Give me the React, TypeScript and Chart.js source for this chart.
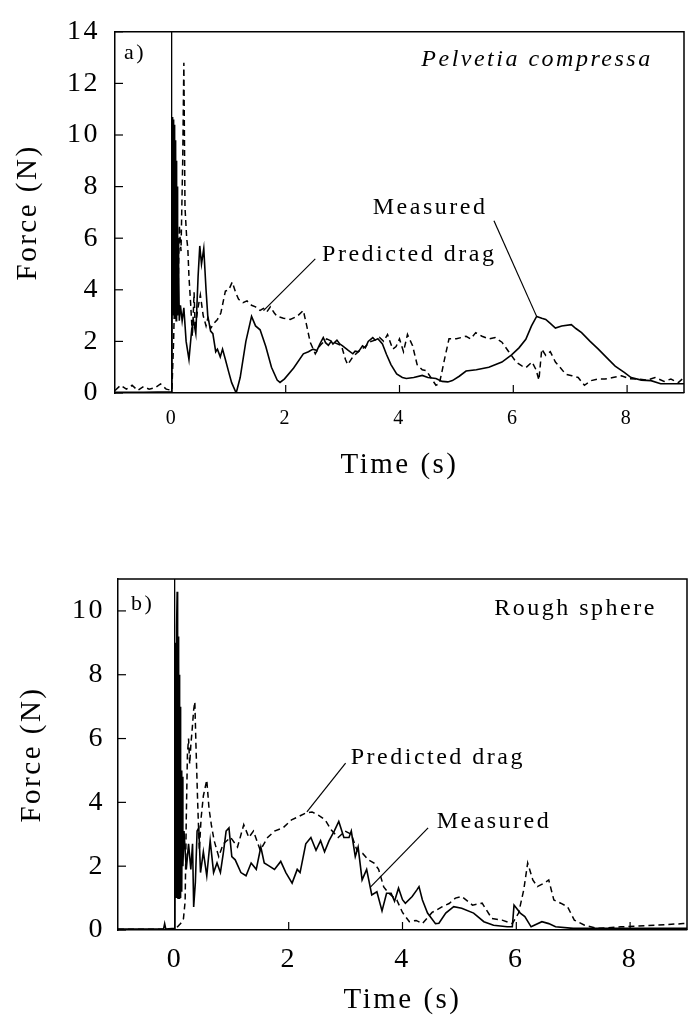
import React, { useEffect, useRef } from "react";
import { Chart, registerables } from "chart.js";
Chart.register(...registerables);

// ---------- DATA (time s, force N) ----------
const aMeasured: [number, number][] = [
  [-1, 0.03], [-0.5, 0.03], [0, 0.05], [0.005, 6.0], [0.01, 10.7], [0.015, 4.0], [0.02, 10.6], [0.025, 3.0],
  [0.03, 10.5], [0.035, 3.5], [0.04, 10.4], [0.045, 3.0], [0.05, 10.2], [0.055, 2.9], [0.06, 9.8], [0.065, 3.0],
  [0.07, 9.5], [0.075, 2.8], [0.08, 9.0], [0.085, 3.0], [0.09, 8.0], [0.095, 3.2], [0.1, 7.0], [0.105, 3.0],
  [0.11, 6.0], [0.115, 3.2], [0.12, 5.0], [0.13, 2.8],
  [0.15, 3.4], [0.18, 2.8], [0.21, 3.3], [0.25, 2.0], [0.3, 1.3], [0.35, 2.5], [0.38, 2.8], [0.42, 2.3],
  [0.46, 4.5], [0.49, 5.7], [0.52, 5.0], [0.56, 5.6], [0.6, 4.0], [0.63, 3.0], [0.68, 2.4], [0.72, 2.3],
  [0.77, 1.6], [0.8, 1.7], [0.85, 1.4], [0.89, 1.7], [0.94, 1.3], [1.0, 0.8], [1.05, 0.4], [1.13, 0.0],
  [1.2, 0.6], [1.3, 2.0], [1.4, 2.97], [1.47, 2.6], [1.55, 2.45], [1.65, 1.8], [1.75, 1.0], [1.85, 0.5],
  [1.9, 0.41], [1.98, 0.55], [2.14, 0.97], [2.31, 1.52], [2.4, 1.6], [2.48, 1.7], [2.55, 1.65], [2.6, 1.9],
  [2.66, 2.15], [2.7, 1.95], [2.75, 1.85], [2.8, 2.0], [2.83, 1.9], [2.9, 2.05], [2.95, 1.9], [3.0, 1.83],
  [3.1, 1.65], [3.18, 1.52], [3.22, 1.62], [3.28, 1.6], [3.35, 1.83], [3.4, 1.75], [3.45, 2.0], [3.53, 2.15],
  [3.57, 2.05], [3.62, 2.1], [3.7, 1.9], [3.77, 1.5], [3.85, 1.1], [3.95, 0.74], [4.05, 0.6],
  [4.12, 0.56], [4.25, 0.6], [4.4, 0.68], [4.5, 0.6], [4.64, 0.56], [4.75, 0.45], [4.85, 0.43], [4.93, 0.48],
  [5.05, 0.65], [5.17, 0.85], [5.35, 0.9], [5.57, 1.0], [5.8, 1.2], [5.97, 1.48], [6.1, 1.75], [6.22, 2.08],
  [6.32, 2.6], [6.41, 2.97], [6.5, 2.9], [6.57, 2.85], [6.65, 2.7], [6.74, 2.52], [6.85, 2.6], [7.02, 2.65],
  [7.1, 2.5], [7.2, 2.34], [7.35, 2.0], [7.49, 1.71], [7.65, 1.35], [7.79, 1.04], [7.95, 0.8], [8.07, 0.6],
  [8.25, 0.5], [8.42, 0.48], [8.59, 0.36], [8.8, 0.36], [9.0, 0.36],
];

const aPredicted: [number, number][] = [
  [-1, 0.1], [-0.9, 0.3], [-0.8, 0.15], [-0.7, 0.3], [-0.6, 0.1], [-0.5, 0.25], [-0.4, 0.15], [-0.3, 0.2],
  [-0.2, 0.35], [-0.1, 0.15], [0, 0.1], [0.03, 2.0], [0.06, 5.0], [0.09, 7.0], [0.11, 4.0], [0.13, 6.5],
  [0.16, 5.5], [0.19, 9.0], [0.21, 12.8], [0.23, 7.2], [0.26, 6.0], [0.28, 5.6], [0.3, 4.5], [0.33, 3.45],
  [0.36, 2.2], [0.39, 3.9], [0.41, 2.45], [0.45, 3.2], [0.5, 3.8], [0.55, 3.0], [0.6, 2.6], [0.63, 2.9],
  [0.68, 2.5], [0.74, 2.7], [0.8, 2.85], [0.86, 3.1], [0.94, 3.95], [1.0, 4.0], [1.06, 4.3], [1.12, 3.9],
  [1.17, 3.64], [1.25, 3.5], [1.32, 3.57], [1.4, 3.4], [1.47, 3.34], [1.55, 3.2], [1.61, 3.28], [1.67, 3.15],
  [1.73, 3.34], [1.8, 3.1], [1.85, 2.97], [1.96, 2.9], [2.08, 2.85], [2.2, 2.97], [2.31, 3.2], [2.37, 2.6],
  [2.43, 1.97], [2.52, 1.52], [2.6, 1.83], [2.72, 2.1], [2.83, 1.98], [2.98, 1.84], [3.05, 1.3], [3.09, 1.1],
  [3.18, 1.4], [3.3, 1.65], [3.4, 1.8], [3.48, 1.98], [3.57, 2.05], [3.65, 2.15], [3.72, 2.0], [3.79, 2.27],
  [3.88, 1.7], [3.94, 1.8], [4.0, 2.1], [4.07, 1.6], [4.14, 2.27], [4.23, 1.83], [4.31, 1.1], [4.4, 0.9],
  [4.47, 0.87], [4.55, 0.6], [4.64, 0.3], [4.7, 0.36], [4.75, 0.87], [4.8, 1.4], [4.87, 2.1], [5.0, 2.1],
  [5.17, 2.2], [5.25, 2.1], [5.34, 2.34], [5.45, 2.2], [5.57, 2.1], [5.68, 2.15], [5.8, 1.97], [5.92, 1.6],
  [6.05, 1.2], [6.15, 1.05], [6.22, 0.98], [6.33, 1.2], [6.4, 0.9], [6.45, 0.5], [6.5, 1.7], [6.57, 1.46],
  [6.65, 1.6], [6.74, 1.2], [6.82, 1.0], [6.92, 0.73], [7.03, 0.67], [7.14, 0.6], [7.25, 0.3], [7.37, 0.48],
  [7.5, 0.55], [7.61, 0.54], [7.75, 0.6], [7.9, 0.67], [8.05, 0.55], [8.19, 0.54], [8.35, 0.5], [8.49, 0.6],
  [8.65, 0.45], [8.77, 0.54], [8.9, 0.4], [9.0, 0.6],
];

const bMeasured: [number, number][] = [
  [-1, 0.03], [-0.5, 0.03], [-0.2, 0.03], [-0.18, 0.2], [-0.16, 0.03], [0, 0.05], [0.005, 7.0], [0.01, 1.0],
  [0.015, 9.0], [0.02, 1.5], [0.025, 9.2], [0.03, 1.0], [0.035, 9.5], [0.04, 10.6], [0.045, 1.2], [0.05, 9.0],
  [0.055, 1.0], [0.06, 9.2], [0.065, 1.5], [0.07, 8.5], [0.075, 1.0], [0.08, 8.0], [0.085, 1.5], [0.09, 7.0],
  [0.095, 1.0], [0.1, 6.0], [0.105, 2.0], [0.11, 5.0], [0.12, 1.2], [0.13, 4.8], [0.14, 2.0],
  [0.16, 3.1], [0.2, 1.9], [0.24, 2.7], [0.28, 1.9],
  [0.31, 2.7], [0.33, 0.72], [0.36, 1.5], [0.39, 3.1], [0.42, 3.2], [0.45, 1.8], [0.5, 2.45], [0.56, 1.7],
  [0.62, 2.8], [0.68, 1.8], [0.74, 2.1], [0.8, 1.8], [0.85, 2.4], [0.9, 3.1], [0.95, 3.2], [1.0, 2.3],
  [1.06, 2.2], [1.16, 1.8], [1.25, 1.7], [1.34, 2.1], [1.43, 1.9], [1.51, 2.6], [1.57, 2.1], [1.66, 2.0],
  [1.75, 1.9], [1.86, 2.15], [1.95, 1.8], [2.06, 1.47], [2.15, 1.9], [2.2, 1.8], [2.3, 2.7], [2.39, 2.9],
  [2.48, 2.5], [2.56, 2.8], [2.63, 2.45], [2.71, 2.8], [2.8, 3.1], [2.88, 3.4], [2.97, 2.9], [3.06, 2.9],
  [3.1, 3.1], [3.17, 2.3], [3.22, 2.6], [3.29, 1.57], [3.37, 1.9], [3.46, 1.1], [3.55, 1.2], [3.64, 0.6],
  [3.72, 1.15], [3.8, 1.15], [3.86, 0.9], [3.93, 1.31], [4.0, 0.95], [4.05, 0.84], [4.17, 1.05], [4.25, 1.25],
  [4.29, 1.36], [4.35, 0.94], [4.44, 0.53], [4.58, 0.2], [4.64, 0.21], [4.76, 0.53], [4.9, 0.73], [5.04, 0.68],
  [5.25, 0.53], [5.43, 0.26], [5.6, 0.15], [5.84, 0.1], [5.93, 0.1], [5.96, 0.78], [6.07, 0.53], [6.15, 0.42],
  [6.26, 0.1], [6.45, 0.26], [6.57, 0.2], [6.69, 0.1], [7.0, 0.05], [8.0, 0.05], [9.0, 0.05],
];

const bPredicted: [number, number][] = [
  [-1, 0.02], [-0.5, 0.02], [0, 0.02], [0.1, 0.2], [0.15, 0.35], [0.18, 0.9], [0.2, 3.5], [0.22, 5.5],
  [0.24, 6.0], [0.26, 5.2], [0.28, 5.8], [0.3, 6.2], [0.33, 6.9], [0.35, 7.15], [0.37, 5.8], [0.4, 4.0],
  [0.43, 2.5], [0.46, 3.5], [0.5, 4.2], [0.56, 4.7], [0.6, 3.8], [0.64, 3.3], [0.69, 2.8], [0.77, 2.3],
  [0.85, 2.7], [0.98, 2.9], [1.1, 2.6], [1.21, 3.3], [1.3, 2.9], [1.38, 3.1], [1.5, 2.5], [1.63, 2.9],
  [1.75, 3.1], [1.9, 3.2], [2.05, 3.45], [2.17, 3.55], [2.29, 3.66], [2.41, 3.7], [2.52, 3.6], [2.64, 3.45],
  [2.75, 3.13], [2.87, 2.9], [2.99, 3.1], [3.1, 3.0], [3.2, 2.5], [3.3, 2.4], [3.4, 2.2], [3.5, 2.1],
  [3.58, 1.9], [3.67, 1.35], [3.76, 1.15], [3.9, 0.94], [4.0, 0.55], [4.12, 0.26], [4.24, 0.3], [4.35, 0.2],
  [4.52, 0.55], [4.7, 0.73], [4.82, 0.83], [4.93, 1.0], [5.04, 1.05], [5.23, 0.78], [5.4, 0.84], [5.57, 0.36],
  [5.75, 0.31], [5.93, 0.2], [6.04, 0.53], [6.13, 1.25], [6.2, 2.1], [6.29, 1.57], [6.37, 1.36], [6.49, 1.47],
  [6.57, 1.57], [6.66, 0.94], [6.78, 0.84], [6.9, 0.73], [7.02, 0.31], [7.2, 0.15], [7.43, 0.05], [7.84, 0.1],
  [8.43, 0.15], [8.93, 0.2], [9.0, 0.2],
];

const xTickValues = [0, 2, 4, 6, 8];
const yTickValuesA = [0, 2, 4, 6, 8, 10, 12, 14];
const yTickValuesB = [0, 2, 4, 6, 8, 10];

// annotation texts: [text, time, force, align, style]
const aTexts: [string, number, number, string, string][] = [
  ["a)", -0.84, 13.16, "left", "normal"],
  ["Pelvetia compressa", 8.45, 12.92, "right", "italic"],
  ["Measured", 3.53, 7.2, "left", "normal"],
  ["Predicted drag", 2.64, 5.35, "left", "normal"],
];
const aPointers: [number, number, number, number][] = [
  [2.52, 5.2, 1.61, 3.19],
  [5.66, 6.68, 6.41, 2.97],
];
const bTexts: [string, number, number, string, string][] = [
  ["b)", -0.77, 10.22, "left", "normal"],
  ["Rough sphere", 8.47, 10.06, "right", "normal"],
  ["Predicted drag", 3.09, 5.39, "left", "normal"],
  ["Measured", 4.6, 3.39, "left", "normal"],
];
const bPointers: [number, number, number, number][] = [
  [3.0, 5.23, 2.32, 3.7],
  [4.45, 3.2, 3.44, 1.35],
];

const FONT = "'Liberation Serif', 'Times New Roman', serif";
const SPACING = "2.5px";

const framePlugin = {
  id: "frame",
  beforeDraw(chart: any) {
    chart.ctx.letterSpacing = SPACING;
  },
  afterDraw(chart: any, _args: any, opts: any) {
    const { ctx, chartArea: a, scales } = chart;
    const x = scales.x;
    const y = scales.y;
    ctx.save();
    ctx.letterSpacing = SPACING;
    ctx.strokeStyle = "#000";
    ctx.lineWidth = 1.5;
    ctx.setLineDash([]);
    ctx.beginPath();
    ctx.moveTo(a.left, a.top);
    ctx.lineTo(a.right, a.top);
    ctx.lineTo(a.right, a.bottom);
    ctx.stroke();
    ctx.lineWidth = 1.2;
    const tl = opts.tickLen;
    for (const t of x.ticks) {
      if (t.value === 0) continue;
      const px = x.getPixelForValue(t.value);
      ctx.beginPath();
      ctx.moveTo(px, a.bottom);
      ctx.lineTo(px, a.bottom - tl);
      ctx.stroke();
    }
    for (const t of y.ticks) {
      const py = y.getPixelForValue(t.value);
      ctx.beginPath();
      ctx.moveTo(a.left, py);
      ctx.lineTo(a.left + tl, py);
      ctx.stroke();
    }
    for (const p of opts.pointers) {
      ctx.beginPath();
      ctx.moveTo(x.getPixelForValue(p[0]), y.getPixelForValue(p[1]));
      ctx.lineTo(x.getPixelForValue(p[2]), y.getPixelForValue(p[3]));
      ctx.stroke();
    }
    ctx.fillStyle = "#000";
    ctx.textBaseline = "middle";
    for (const t of opts.texts) {
      const size = t[0].length <= 2 ? 22 : 24;
      ctx.font = `${t[4]} ${size}px ${FONT}`;
      ctx.textAlign = t[3];
      ctx.fillText(t[0], x.getPixelForValue(t[1]), y.getPixelForValue(t[2]));
    }
    ctx.restore();
  },
};

type PanelProps = {
  width: number;
  height: number;
  measured: [number, number][];
  predicted: [number, number][];
  yMax: number;
  yTicks: number[];
  pad: { top: number; right: number };
  yWidth: number;
  xHeight: number;
  yTickPad: number;
  yTitlePad: number;
  xTickSize: number;
  xTickPad: number;
  xTitlePad: number;
  texts: any[];
  pointers: any[];
};

function Panel(p: PanelProps) {
  const ref = useRef<HTMLCanvasElement>(null);
  useEffect(() => {
    if (!ref.current) return;
    const chart = new Chart(ref.current, {
      type: "line",
      data: {
        datasets: [
          {
            label: "Measured",
            data: p.measured.map(([t, f]) => ({ x: t, y: f })),
            borderColor: "#000",
            borderWidth: 1.6,
            pointRadius: 0,
            tension: 0,
          },
          {
            label: "Predicted drag",
            data: p.predicted.map(([t, f]) => ({ x: t, y: f })),
            borderColor: "#000",
            borderWidth: 1.5,
            borderDash: [6, 4],
            pointRadius: 0,
            tension: 0,
          },
        ],
      },
      options: {
        responsive: false,
        animation: false,
        devicePixelRatio: 1,
        layout: { padding: { top: p.pad.top, right: p.pad.right, left: 0, bottom: 0 } },
        plugins: {
          legend: { display: false },
          tooltip: { enabled: false },
          frame: { tickLen: 8, texts: p.texts, pointers: p.pointers },
        } as any,
        scales: {
          x: {
            type: "linear",
            min: -1,
            max: 9,
            afterBuildTicks: (s: any) => {
              s.ticks = xTickValues.map((v) => ({ value: v }));
            },
            afterFit: (s: any) => {
              s.height = p.xHeight;
            },
            ticks: {
              color: "#000",
              font: { family: FONT, size: p.xTickSize },
              padding: p.xTickPad,
              maxRotation: 0,
            },
            grid: {
              drawTicks: false,
              drawOnChartArea: true,
              lineWidth: 1.3,
              color: (c: any) => (c.tick && c.tick.value === 0 ? "#000" : "rgba(0,0,0,0)"),
            },
            border: { display: true, color: "#000", width: 1.5 },
            title: {
              display: true,
              text: "Time (s)",
              color: "#000",
              font: { family: FONT, size: 29 },
              padding: { top: 0, bottom: p.xTitlePad },
            },
          },
          y: {
            type: "linear",
            min: 0,
            max: p.yMax,
            afterBuildTicks: (s: any) => {
              s.ticks = p.yTicks.map((v) => ({ value: v }));
            },
            afterFit: (s: any) => {
              s.width = p.yWidth;
            },
            ticks: {
              color: "#000",
              font: { family: FONT, size: 28 },
              padding: p.yTickPad,
            },
            grid: { display: false, drawTicks: false },
            border: { display: true, color: "#000", width: 1.5 },
            title: {
              display: true,
              text: "Force (N)",
              color: "#000",
              font: { family: FONT, size: 29 },
              padding: { top: p.yTitlePad, bottom: 0 },
            },
          },
        },
      },
      plugins: [framePlugin as any],
    });
    return () => chart.destroy();
  }, []);
  return <canvas ref={ref} width={p.width} height={p.height} style={{ display: "block" }} />;
}

export default function App() {
  return (
    <div style={{ position: "absolute", left: 0, top: 0, width: 693, height: 1028, background: "#fff" }}>
      <Panel
        width={693}
        height={500}
        measured={aMeasured}
        predicted={aPredicted}
        yMax={14}
        yTicks={yTickValuesA}
        pad={{ top: 16, right: 9 }}
        yWidth={115}
        xHeight={107}
        yTickPad={15}
        yTitlePad={11}
        xTickSize={20}
        xTickPad={14}
        xTitlePad={17}
        texts={aTexts}
        pointers={aPointers}
      />
      <Panel
        width={693}
        height={528}
        measured={bMeasured}
        predicted={bPredicted}
        yMax={11}
        yTicks={yTickValuesB}
        pad={{ top: 79, right: 6 }}
        yWidth={118}
        xHeight={98}
        yTickPad={13}
        yTitlePad={15}
        xTickSize={28}
        xTickPad={13}
        xTitlePad={10}
        texts={bTexts}
        pointers={bPointers}
      />
    </div>
  );
}
